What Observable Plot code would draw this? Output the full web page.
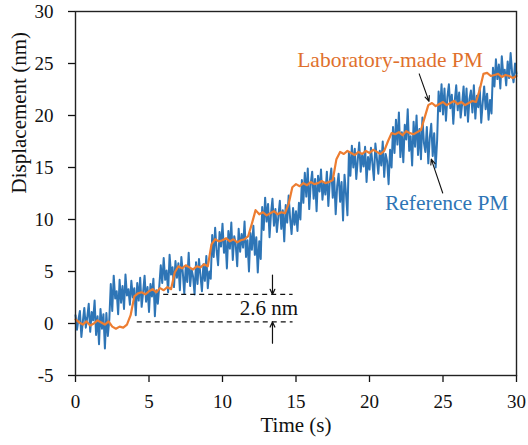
<!DOCTYPE html>
<html>
<head>
<meta charset="utf-8">
<script src="https://cdn.jsdelivr.net/npm/d3@7"></script>
<script src="https://cdn.jsdelivr.net/npm/@observablehq/plot@0.6"></script>
<style>
  html, body { margin: 0; padding: 0; background: #fff; }
  #chart svg { display: block; }
  #chart svg text { font-family: "Liberation Serif", "Times New Roman", serif; }
</style>
</head>
<body>
<div id="chart"></div>
<script>
// Tick labels
const xTicks = [0, 5, 10, 15, 20, 25, 30];
const yTicks = [-5, 0, 5, 10, 15, 20, 25, 30];

// Reference PM (blue), sampled every 0.1 s from t = 0 to 30 s
const refStep = 0.1;
const refY = [
  0.8, -0.6, 0.4, 1.2, -1.3, 0.2, 1.5, -0.4, 0.6, 1.9,
  -0.8, 1.1, 0.3, 2.2, -1.1, 0.7, -2.0, 1.4, -0.5, 0.9,
  -2.4, 1.0, -1.2, 0.4, 3.8, 1.2, 4.6, 2.4, 3.1, 0.9,
  4.2, 2.0, 3.6, 1.4, 4.7, 2.7, 3.3, 1.8, 4.1, 2.5,
  3.4, 0.8, 3.9, 2.2, 4.4, 1.6, 3.0, 4.6, 2.1, 3.5,
  1.1, 3.8, 2.6, 4.3, 0.7, 3.2, 1.9, 3.6, 5.6, 3.9,
  6.3, 4.2, 5.1, 3.0, 6.6, 4.7, 5.4, 3.5, 6.0, 4.4,
  5.8, 3.2, 6.4, 4.9, 2.9, 5.5, 4.0, 6.8, 3.6, 5.2,
  4.5, 2.8, 5.9, 3.8, 6.2, 4.6, 3.1, 5.7, 4.1, 6.5,
  3.4, 5.0, 4.3, 8.5, 6.4, 9.2, 7.0, 5.6, 8.8, 7.4,
  9.6, 6.8, 8.1, 5.3, 8.9, 7.2, 9.7, 6.1, 8.4, 7.6,
  5.5, 9.1, 6.9, 8.6, 7.3, 9.8, 6.4, 8.0, 5.0, 8.7,
  7.1, 9.4, 6.6, 8.3, 4.9, 7.9, 6.2, 11.2, 9.0, 12.1,
  9.8, 11.5, 8.3, 10.6, 12.0, 9.4, 11.0, 8.8, 10.3, 11.8,
  9.1, 10.9, 7.9, 11.4, 9.7, 12.3, 10.1, 8.6, 11.1, 9.5,
  10.8, 8.9, 11.6, 10.0, 13.8, 11.6, 14.5, 12.2, 14.9, 11.0,
  13.4, 14.6, 12.0, 13.9, 10.8, 14.2, 12.7, 14.8, 11.9, 13.5,
  12.4, 14.6, 11.3, 13.7, 14.9, 12.1, 14.0, 10.5, 13.2, 14.4,
  11.7, 13.6, 9.9, 14.3, 12.5, 10.4, 16.5, 14.2, 17.1, 15.0,
  16.8, 13.9, 15.7, 17.4, 14.6, 16.2, 15.1, 17.0, 13.6, 16.0,
  14.8, 16.9, 15.4, 13.8, 17.3, 15.9, 14.4, 16.6, 15.2, 17.5,
  14.1, 16.3, 15.6, 13.4, 16.7, 15.0, 18.9, 16.4, 19.6, 17.2,
  20.3, 16.0, 18.4, 15.5, 19.1, 17.7, 20.6, 16.6, 18.0, 15.2,
  19.4, 17.0, 20.0, 16.2, 18.7, 15.8, 19.8, 17.4, 16.5, 18.9,
  15.4, 17.9, 19.2, 16.1, 18.3, 15.0, 17.6, 22.3, 20.4, 23.0,
  20.1, 22.6, 19.5, 21.8, 23.0, 20.7, 22.0, 19.2, 21.4, 22.9,
  20.5, 22.2, 19.8, 21.1, 22.8, 20.0, 22.6, 19.4, 21.6, 22.4,
  20.3, 22.9, 19.7, 21.9, 20.8, 22.7, 19.3, 21.2, 22.8, 20.6,
  22.1, 19.6, 21.5, 20.2, 24.6, 22.8, 25.4, 23.5, 24.9, 22.6,
  25.7, 23.9, 24.4, 22.9, 25.2, 23.6, 26.0, 24.1, 23.2, 25.0,
  24.0
];

// Laboratory-made PM (orange), sampled every 0.25 s from t = 0 to 30 s
const labStep = 0.25;
const labY = [
  0.4, 0.1, -0.1, 0.2,
  -0.2, 0.0, 0.3, 0.1,
  -0.1, 0.2, -0.3, -0.5,
  -0.3, -0.4, -0.1, 0.8,
  2.6, 2.9, 3.0, 2.8,
  3.1, 3.3, 3.0, 3.4,
  3.2, 3.5, 3.3, 4.9,
  5.5, 5.3, 5.6, 5.4,
  5.2, 5.5, 5.4, 5.7,
  5.5, 7.6, 8.1, 7.9,
  8.0, 8.2, 7.9, 8.1,
  7.8, 8.0, 8.1, 8.4,
  9.6, 10.9, 10.5, 10.7,
  10.4, 10.6, 10.8, 10.5,
  10.7, 10.6, 11.5, 13.1,
  13.4, 13.2, 13.5, 13.3,
  13.6, 13.4, 13.5, 13.7,
  13.5, 13.6, 13.8, 15.8,
  16.5, 16.3, 16.6, 16.4,
  16.2, 16.5, 16.3, 16.6,
  16.4, 16.7, 16.5, 16.3,
  16.6, 17.5, 18.3, 18.2,
  18.4, 18.1, 18.5, 18.3,
  18.2, 18.4, 18.6, 19.8,
  21.0, 21.2, 20.9, 21.1,
  21.3, 21.0, 21.2, 21.4,
  21.1, 21.3, 21.0, 21.2,
  21.4, 21.3, 22.5, 24.0,
  24.1, 23.8, 23.9, 24.0,
  23.7, 23.9, 23.8, 23.6,
  23.8
];

// Annotation content
const seriesNames = ["Laboratory-made PM", "Reference PM"];
const stepLabel = "2.6 nm";
const stepLevels = [2.8, 0.15];      // dashed reference levels (nm)
const stepStarts = [6.0, 4.2];       // dashed line start times (s)
const stepEnd = 14.8;
const stepArrowT = 13.4;

const blue = "#2E75B6";
const orange = "#ED7D31";

const ref = refY.map((v, i) => ({t: +(i * refStep).toFixed(2), v}));
const lab = labY.map((v, i) => ({t: +(i * labStep).toFixed(2), v}));

const serif = "Liberation Serif, Times New Roman, serif";

const chart = Plot.plot({
  width: 528,
  height: 445,
  marginLeft: 75,
  marginRight: 12,
  marginTop: 11,
  marginBottom: 70,
  style: {fontFamily: serif, fontSize: "19px", color: "#111", background: "#fff"},
  x: {domain: [0, 30], ticks: xTicks},
  y: {domain: [-5, 30], ticks: yTicks},
  marks: [
    Plot.axisX({ticks: xTicks, tickSize: 7, tickPadding: 12, tickFormat: d => String(d), label: null, fontSize: 19, strokeWidth: 1.3}),
    Plot.axisY({ticks: yTicks, tickSize: 7, tickPadding: 15, tickFormat: d => String(d), label: null, fontSize: 19, strokeWidth: 1.3}),
    Plot.line(ref, {x: "t", y: "v", stroke: blue, strokeWidth: 2, curve: "linear"}),
    Plot.line(lab, {x: "t", y: "v", stroke: orange, strokeWidth: 2.2, curve: "linear"}),
    // dashed step levels
    Plot.ruleY(stepLevels, {y: d => d, x1: (d, i) => stepStarts[i], x2: stepEnd, stroke: "#111", strokeWidth: 1.3, strokeDasharray: "5,4"}),
    // vertical arrows indicating the 2.6 nm step
    Plot.arrow([{x1: stepArrowT, y1: 4.66, x2: stepArrowT, y2: stepLevels[0]},
                {x1: stepArrowT, y1: -1.9, x2: stepArrowT, y2: stepLevels[1]}],
      {x1: "x1", y1: "y1", x2: "x2", y2: "y2", stroke: "#111", strokeWidth: 1.2, headLength: 7, headAngle: 50}),
    Plot.text([stepLabel], {x: 13.15, y: 1.45, text: d => d, fontFamily: serif, fontSize: 21, fill: "#111", textAnchor: "middle"}),
    // series labels and pointer arrows
    Plot.text([seriesNames[0]], {x: 21.4, y: 25.3, text: d => d, fontFamily: serif, fontSize: 21.5, fill: "#E0702C", textAnchor: "middle"}),
    Plot.text([seriesNames[1]], {x: 25.25, y: 11.6, text: d => d, fontFamily: serif, fontSize: 21.5, fill: blue, textAnchor: "middle"}),
    Plot.arrow([{x1: 23.38, y1: 24.0, x2: 24.05, y2: 21.35}],
      {x1: "x1", y1: "y1", x2: "x2", y2: "y2", stroke: "#111", strokeWidth: 1.1, headLength: 8, headAngle: 45}),
    Plot.arrow([{x1: 24.98, y1: 12.55, x2: 24.2, y2: 15.8}],
      {x1: "x1", y1: "y1", x2: "x2", y2: "y2", stroke: "#111", strokeWidth: 1.1, headLength: 8, headAngle: 45}),
    // axis titles
    Plot.text(["Time (s)"], {frameAnchor: "bottom", dy: 56, text: d => d, fontFamily: serif, fontSize: 21, fill: "#111"}),
    Plot.text(["Displacement (nm)"], {frameAnchor: "left", dx: -56, rotate: -90, text: d => d, fontFamily: serif, fontSize: 21, fill: "#111"}),
    Plot.frame({stroke: "#222", strokeWidth: 1.4})
  ]
});

document.getElementById("chart").appendChild(chart);
</script>
</body>
</html>
